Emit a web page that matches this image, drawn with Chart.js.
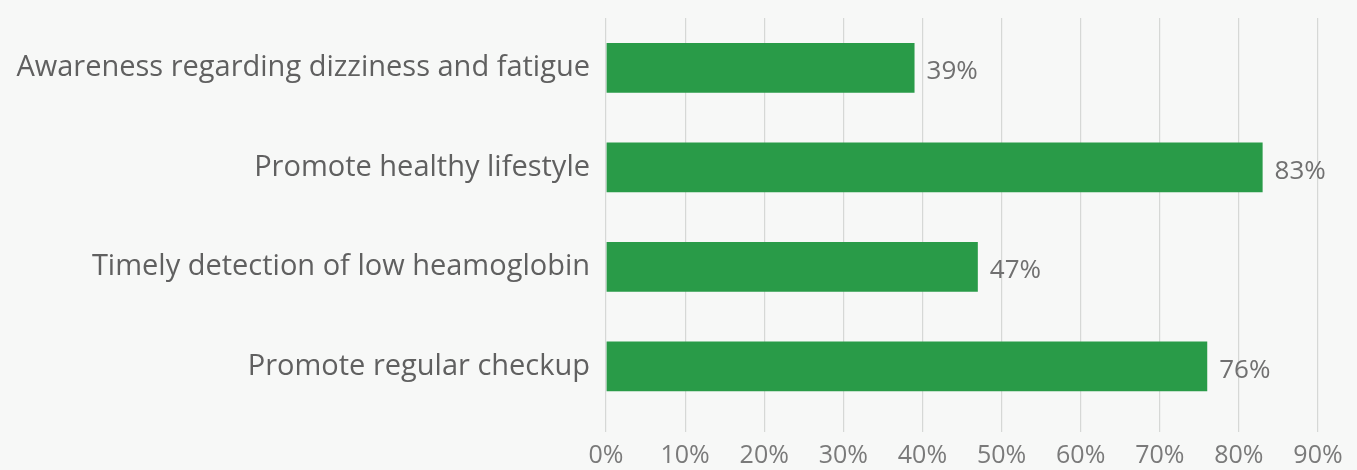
<!DOCTYPE html>
<html>
<head>
<meta charset="utf-8">
<script src="https://cdn.jsdelivr.net/npm/chart.js@4"></script>
<style>
  html, body { margin: 0; padding: 0; background: #f7f8f7; }
  #wrap { width: 1357px; height: 470px; }
</style>
</head>
<body>
<div id="wrap"><canvas id="benefitChart"></canvas></div>
<script>
// Benefit categories and share of respondents (%)
const categories = [
  "Awareness regarding dizziness and fatigue",
  "Promote healthy lifestyle",
  "Timely detection of low heamoglobin",
  "Promote regular checkup",
];
const shares = [39, 83, 47, 76];
const xTicks = [0, 10, 20, 30, 40, 50, 60, 70, 80, 90];

const barGreen = "#299b48";
const textGrey = "#606060";

// Draw the value text just past the end of every bar
const valueLabels = {
  id: "valueLabels",
  afterDatasetsDraw(chart) {
    const ctx = chart.ctx;
    const meta = chart.getDatasetMeta(0);
    ctx.save();
    ctx.font = "26px 'Open Sans', sans-serif";
    ctx.fillStyle = "#707070";
    ctx.textAlign = "left";
    ctx.textBaseline = "middle";
    meta.data.forEach((bar, i) => {
      ctx.fillText(shares[i] + "%", bar.x + 12, bar.y + 4);
    });
    ctx.restore();
  },
};

new Chart(document.getElementById("benefitChart"), {
  type: "bar",
  data: {
    labels: categories,
    datasets: [
      {
        data: shares,
        backgroundColor: barGreen,
        borderWidth: 0,
        categoryPercentage: 1,
        barPercentage: 0.5,
      },
    ],
  },
  options: {
    indexAxis: "y",
    responsive: true,
    maintainAspectRatio: false,
    animation: false,
    layout: {
      padding: { top: 18, right: 39, bottom: 0, left: 0 },
    },
    plugins: {
      legend: { display: false },
      tooltip: { enabled: false },
    },
    scales: {
      x: {
        min: 0,
        max: 90,
        afterBuildTicks: (scale) => {
          scale.ticks = xTicks.map((v) => ({ value: v }));
        },
        afterFit: (scale) => {
          scale.height = 54;
        },
        grid: {
          color: "#d6d8d6",
          lineWidth: 1.2,
          drawTicks: true,
          tickLength: 16,
        },
        border: { display: false },
        ticks: {
          padding: 9,
          color: "#7a7a7a",
          font: { family: "'Open Sans', sans-serif", size: 25 },
          callback: (v) => v + "%",
          maxRotation: 0,
          autoSkip: false,
        },
      },
      y: {
        // fixed label column; no extra space above/below for the tick text
        afterFit: (scale) => {
          scale.width = 606;
          scale.paddingTop = 0;
          scale.paddingBottom = 0;
        },
        grid: { display: false, drawTicks: false },
        border: { display: false },
        ticks: {
          padding: 16,
          color: textGrey,
          font: { family: "'Open Sans', sans-serif", size: 29 },
        },
      },
    },
  },
  plugins: [valueLabels],
});
</script>
</body>
</html>
